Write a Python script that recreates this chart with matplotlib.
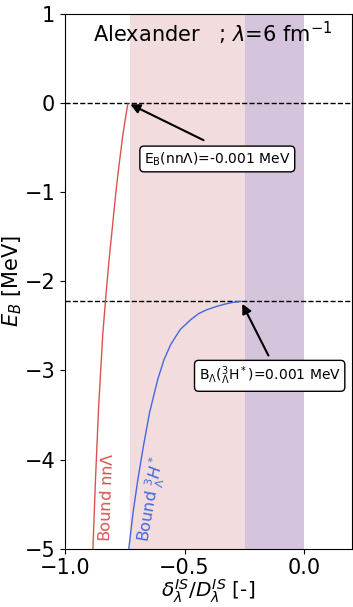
"""
Binding energy vs. delta/D for Alexander potential (lambda = 6 fm^-1)
"""
import matplotlib.pyplot as plt
import numpy as np

# curve points
nnl_x = [-0.883, -0.872, -0.859, -0.842, -0.830, -0.817, -0.802, -0.787, -0.774, -0.760, -0.749, -0.737]
nnl_e = [-5.00, -4.20, -3.40, -2.60, -2.20, -1.80, -1.40, -1.00, -0.70, -0.40, -0.20, -0.01]

h3_x = [-0.733, -0.715, -0.695, -0.672, -0.646, -0.612, -0.586, -0.558,
        -0.518, -0.474, -0.440, -0.405, -0.370, -0.335, -0.300, -0.264]
h3_e = [-5.00, -4.59, -4.22, -3.85, -3.47, -3.10, -2.88, -2.71,
        -2.54, -2.43, -2.36, -2.317, -2.285, -2.258, -2.237, -2.224]

e_nnl = 0.0
e_h3 = -2.224
span_pink = (-0.73, -0.246)
span_purple = (-0.246, 0.0)

fig = plt.figure(figsize=(3.53, 6.07), dpi=100)
ax = fig.add_axes([0.184, 0.096, 0.813, 0.881])

ax.axvspan(*span_pink, color='#f2dcdd', lw=0, zorder=0)
ax.axvspan(*span_purple, color='#d5c5dc', lw=0, zorder=0)

ax.axhline(e_nnl, color='black', ls='--', lw=1)
ax.axhline(e_h3, color='black', ls='--', lw=1)

ax.plot(nnl_x, nnl_e, color='#d9534f', lw=1)
ax.plot(h3_x, h3_e, color='#4169e1', lw=1)

# Labels along the curves
ax.text(-0.827, -4.42, r'Bound nn$\Lambda$', color='#d9534f', fontsize=11.5,
        rotation=88, ha='center', va='center')
ax.text(-0.637, -4.44, r'Bound $^3_\Lambda H^*$', color='#4169e1', fontsize=11.5,
        rotation=80, ha='center', va='center')

# annotations
arrow = dict(arrowstyle='-|>', color='black', lw=1.5, mutation_scale=14)
ax.annotate('', xy=(nnl_x[-1], e_nnl), xytext=(-0.41, -0.43), arrowprops=arrow)
ax.annotate('', xy=(h3_x[-1], e_h3), xytext=(-0.144, -2.86), arrowprops=arrow)

box = dict(boxstyle='round', fc='white', ec='black')
ax.text(-0.363, -0.627, r'E$_\mathrm{B}$(nn$\Lambda$)=-0.001 MeV', fontsize=10,
        ha='center', va='center', bbox=box)
ax.text(-0.144, -3.06, r'B$_\Lambda$($^3_\Lambda$H$^*$)=0.001 MeV', fontsize=10,
        ha='center', va='center', bbox=box)

ax.text(-0.383, 0.78, r'Alexander   ; $\lambda$=6 fm$^{-1}$', fontsize=15,
        ha='center', va='center')

ax.set_xlim(-1.0, 0.2)
ax.set_ylim(-5, 1)
ax.set_xticks([-1.0, -0.5, 0.0])
ax.set_yticks(np.arange(-5, 2, 1))
ax.tick_params(labelsize=15)
ax.set_xlabel(r'$\delta_\lambda^{IS}/D_\lambda^{IS}$ [-]', fontsize=14.5, labelpad=-0.5)
ax.set_ylabel(r'$E_B$ [MeV]', fontsize=15, labelpad=0)

plt.savefig('out.png', dpi=100)
